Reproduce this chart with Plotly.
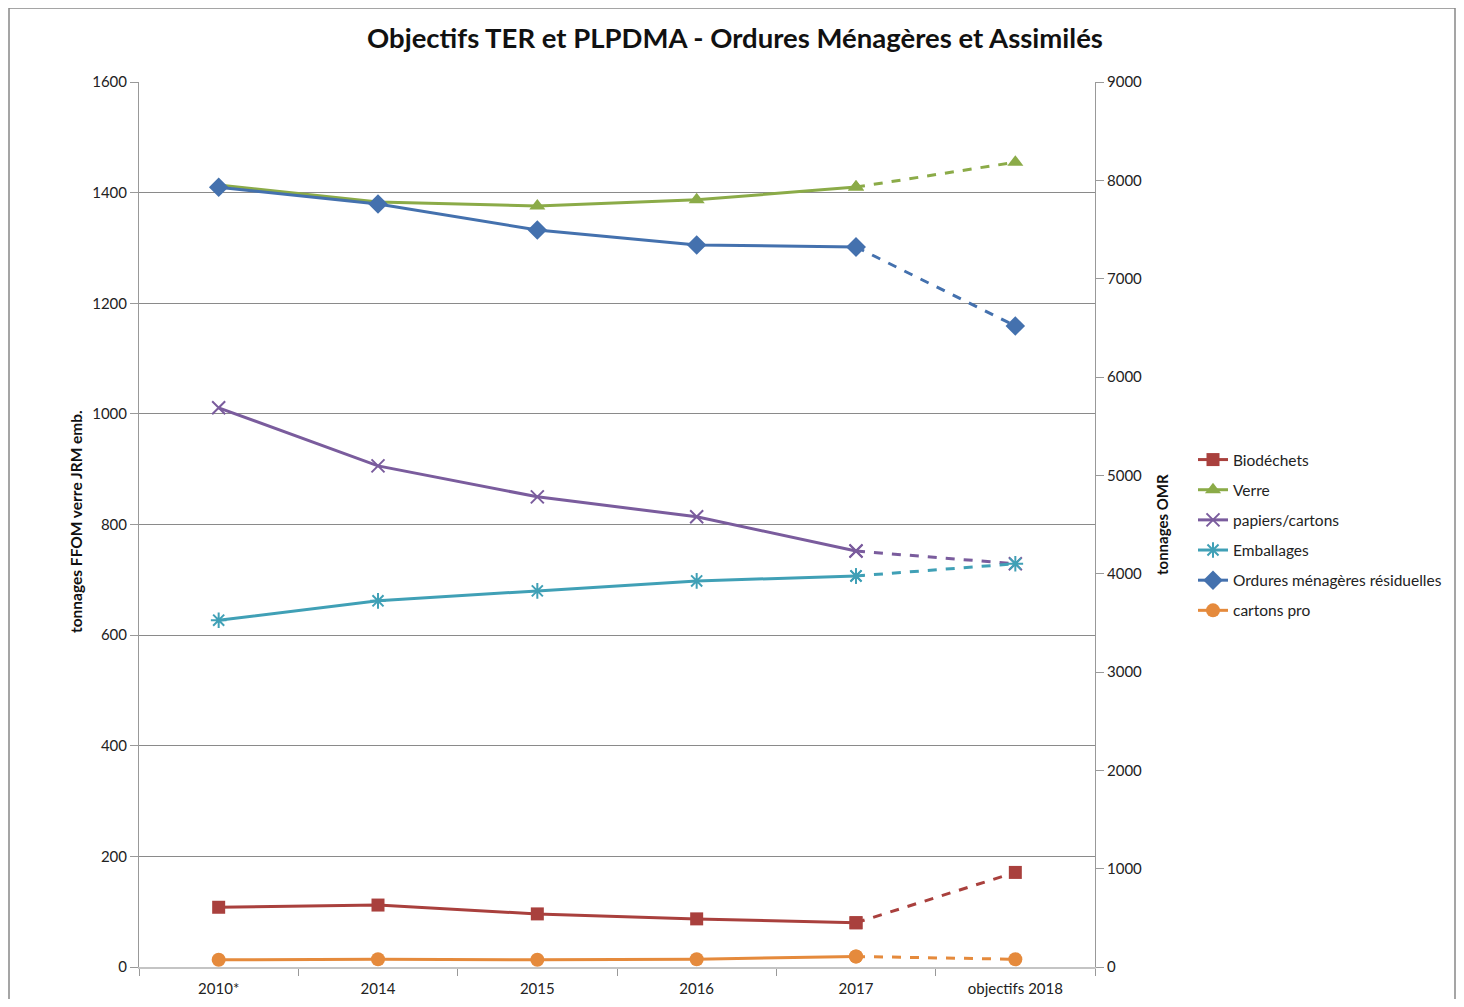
import plotly.graph_objects as go

categories = ["2010*", "2014", "2015", "2016", "2017", "objectifs 2018"]
biodechets = [108, 112, 96, 87, 80, 171]
verre = [1414, 1383, 1376, 1387, 1410, 1455]
papiers = [1011, 906, 850, 814, 752, 729]
emballages = [627, 662, 680, 698, 707, 729]
omr = [7930, 7760, 7495, 7342, 7322, 6519]
cartons_pro = [13, 14, 13, 14, 19, 14]

left_ticks = [0, 200, 400, 600, 800, 1000, 1200, 1400, 1600]
right_ticks = [0, 1000, 2000, 3000, 4000, 5000, 6000, 7000, 8000, 9000]

FONT = "Lato"
series = [
    ("Biodéchets", biodechets, "#A9403D", "square", 13, "y"),
    ("Verre", verre, "#8BAB48", "triangle-up", 14, "y"),
    ("papiers/cartons", papiers, "#7A5C9D", "x-thin-open", 13, "y"),
    ("Emballages", emballages, "#40A0B6", "asterisk-open", 13, "y"),
    ("Ordures ménagères résiduelles", omr, "#4471AE", "diamond", 15, "y2"),
    ("cartons pro", cartons_pro, "#E58A3C", "circle", 14, "y"),
]

fig = go.Figure()
for name, vals, color, sym, size, yax in series:
    mline = dict(color=color, width=2) if "open" in sym else dict(width=0)
    fig.add_trace(go.Scatter(
        x=categories[:5], y=vals[:5], name=name, yaxis=yax, mode="lines+markers",
        line=dict(color=color, width=3),
        marker=dict(symbol=sym, size=size, color=color, line=mline),
        legendgroup=name, showlegend=True))
    fig.add_trace(go.Scatter(
        x=categories[4:], y=vals[4:], name=name, yaxis=yax, mode="lines+markers",
        line=dict(color=color, width=3, dash="dash"),
        marker=dict(symbol=sym, size=size, color=color, line=mline),
        legendgroup=name, showlegend=False))

# page is offset by the browser's 8px body margin
OFF = 8
W, H = 1464 - 2 * OFF, 1007 - 2 * OFF
L, R, T, B = 139 - OFF, 1095 - OFF, 82 - OFF, 967 - OFF

def px(xpage):
    return (xpage - OFF - L) / (R - L)

def py(ypage):
    return (B - (ypage - OFF)) / (B - T)

fig.update_layout(
    width=W, height=H,
    margin=dict(l=L, r=W - R, t=T, b=H - B, autoexpand=False),
    paper_bgcolor="white", plot_bgcolor="white",
    font=dict(family=FONT, size=15, color="#222"),
    title=dict(text="<b>Objectifs TER et PLPDMA - Ordures Ménagères et Assimilés</b>",
               x=(735 - OFF) / W, xanchor="center", y=1 - (38 - OFF) / H, yanchor="middle",
               font=dict(family=FONT, size=27.5, color="#111")),
    xaxis=dict(type="category", categoryorder="array", categoryarray=categories,
               range=[-0.5, 5.5], showgrid=False, showline=True, linecolor="#c4c4c4",
               linewidth=2, ticks="outside", tickson="boundaries", ticklen=7,
               tickcolor="#999", automargin=False, ticklabelstandoff=7,
               tickfont=dict(family=FONT, size=15, color="#222")),
    yaxis=dict(range=[0, 1600], tickvals=left_ticks, showgrid=True, gridcolor="#8a8a8a",
               gridwidth=1, showline=True, linecolor="#999", ticks="outside", ticklen=8,
               tickcolor="#999", zeroline=False, automargin=False,
               tickfont=dict(family=FONT, size=15, color="#222")),
    yaxis2=dict(range=[0, 9000], tickvals=right_ticks, overlaying="y", side="right",
                showgrid=False, showline=True, linecolor="#999", ticks="outside",
                ticklen=8, tickcolor="#999", zeroline=False, automargin=False,
                tickfont=dict(family=FONT, size=15, color="#222")),
    legend=dict(x=px(1193), y=py(535), xanchor="left", yanchor="middle",
                font=dict(family=FONT, size=15.5, color="#222"), tracegroupgap=7,
                itemwidth=30, bgcolor="rgba(0,0,0,0)"),
    showlegend=True,
)

fig.add_annotation(text="<b>tonnages FFOM verre JRM emb.</b>", textangle=-90,
                   x=px(76), y=py(522), xref="paper", yref="paper", showarrow=False,
                   xanchor="center", yanchor="middle",
                   font=dict(family=FONT, size=15.5, color="#111"))
fig.add_annotation(text="<b>tonnages OMR</b>", textangle=-90,
                   x=px(1162), y=py(525), xref="paper", yref="paper", showarrow=False,
                   xanchor="center", yanchor="middle",
                   font=dict(family=FONT, size=15, color="#111"))

fig.add_shape(type="rect", xref="paper", yref="paper",
              x0=px(9), x1=px(1455), y0=py(1030), y1=py(8),
              line=dict(color="#888", width=1.5), fillcolor="rgba(0,0,0,0)", layer="below")

fig.write_html("out.html")
